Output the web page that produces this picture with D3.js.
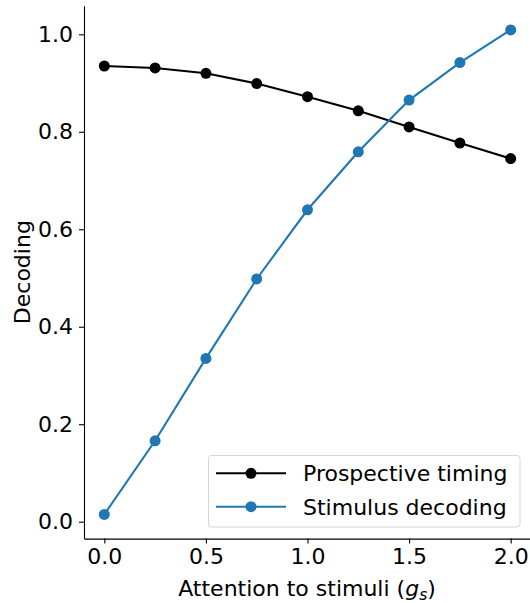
<!DOCTYPE html>
<html>
<head>
<meta charset="utf-8">
<script src="https://cdn.jsdelivr.net/npm/d3@7/dist/d3.min.js"></script>
<style>
  html, body { margin: 0; padding: 0; background: #fff; }
  svg { display: block; font-family: "DejaVu Sans", sans-serif; }
</style>
</head>
<body>
<svg id="chart" width="530" height="603"></svg>
<script>
// Attention gain values on the x axis
const attention = [0, 0.25, 0.5, 0.75, 1.0, 1.25, 1.5, 1.75, 2.0];
// Decoding performance for each readout
const prospectiveTiming = [0.935, 0.931, 0.920, 0.899, 0.872, 0.843, 0.810, 0.777, 0.745];
const stimulusDecoding  = [0.015, 0.166, 0.335, 0.498, 0.640, 0.759, 0.865, 0.942, 1.009];
const xTicks = [0, 0.5, 1.0, 1.5, 2.0];
const yTicks = [0, 0.2, 0.4, 0.6, 0.8, 1.0];
const seriesNames = ["Prospective timing", "Stimulus decoding"];
const seriesColors = ["#000000", "#1f77b4"];

const svg = d3.select("#chart");
const fontSize = 22;

const x = d3.scaleLinear().domain([-0.1, 2.1]).range([84, 531]);
const y = d3.scaleLinear().domain([-0.0347, 1.0587]).range([538.6, 5.7]);

// Axes
const xAxis = svg.append("g")
  .attr("transform", `translate(0,${y.range()[0]})`)
  .call(d3.axisBottom(x).tickValues(xTicks).tickFormat(d3.format(".1f")).tickSize(5).tickPadding(5).tickSizeOuter(0));
const yAxis = svg.append("g")
  .attr("transform", `translate(${x.range()[0]},0)`)
  .call(d3.axisLeft(y).tickValues(yTicks).tickFormat(d3.format(".1f")).tickSize(5).tickPadding(6).tickSizeOuter(0));

[xAxis, yAxis].forEach(g => {
  g.selectAll("path.domain").attr("stroke", "#000").attr("stroke-width", 1.1);
  g.selectAll(".tick line").attr("stroke", "#000").attr("stroke-width", 1.1);
  g.selectAll(".tick text").attr("font-size", fontSize).attr("font-family", "DejaVu Sans").attr("fill", "#000");
});

// Axis labels
svg.append("text")
  .attr("transform", `translate(29.5,${(y.range()[0] + y.range()[1]) / 2}) rotate(-90)`)
  .attr("text-anchor", "middle")
  .attr("font-size", fontSize)
  .attr("fill", "#000")
  .text("Decoding");

const xl = svg.append("text")
  .attr("x", 307)
  .attr("y", 596)
  .attr("text-anchor", "middle")
  .attr("font-size", fontSize)
  .attr("fill", "#000");
xl.append("tspan").text("Attention to stimuli (");
xl.append("tspan").attr("font-style", "italic").text("g");
xl.append("tspan").attr("font-style", "italic").attr("font-size", 15.5).attr("dy", 4).text("s");
xl.append("tspan").attr("dy", -4).text(")");

// Series lines and markers
const series = [prospectiveTiming, stimulusDecoding];
const line = d3.line().x((d, i) => x(attention[i])).y(d => y(d));
series.forEach((vals, si) => {
  svg.append("path")
    .datum(vals)
    .attr("d", line)
    .attr("fill", "none")
    .attr("stroke", seriesColors[si])
    .attr("stroke-width", 2.1);
  svg.append("g").selectAll("circle")
    .data(vals)
    .join("circle")
    .attr("cx", (d, i) => x(attention[i]))
    .attr("cy", d => y(d))
    .attr("r", 5.5)
    .attr("fill", seriesColors[si]);
});

// Legend
const legend = svg.append("g");
legend.append("rect")
  .attr("x", 208.5).attr("y", 455.5)
  .attr("width", 311.5).attr("height", 71.5)
  .attr("rx", 3)
  .attr("fill", "#fff").attr("fill-opacity", 0.8)
  .attr("stroke", "#d6d6d6").attr("stroke-width", 1);
seriesNames.forEach((name, i) => {
  const ly = 473.3 + i * 33.4;
  legend.append("line")
    .attr("x1", 216).attr("x2", 286).attr("y1", ly).attr("y2", ly)
    .attr("stroke", seriesColors[i]).attr("stroke-width", 2.1);
  legend.append("circle")
    .attr("cx", 251).attr("cy", ly).attr("r", 5.5).attr("fill", seriesColors[i]);
  legend.append("text")
    .attr("x", 303).attr("y", ly + 8)
    .attr("font-size", fontSize).attr("fill", "#000")
    .text(name);
});
</script>
</body>
</html>
